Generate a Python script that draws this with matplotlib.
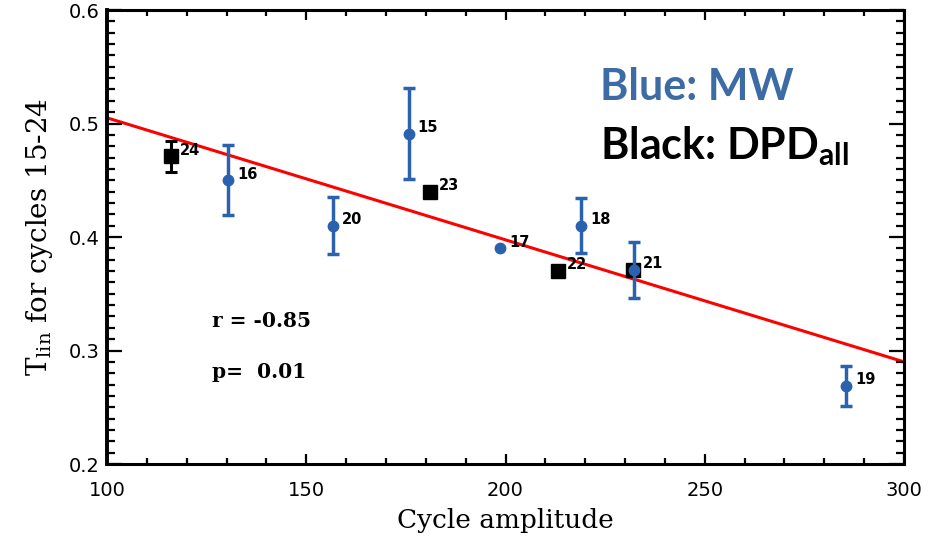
import matplotlib
matplotlib.use("Agg")
import matplotlib.pyplot as plt
import numpy as np

# MW sunspot-based T_lin values with uncertainties
mw_cycle = [15, 16, 17, 18, 19, 20, 21]
mw_amp = [175.7, 130.4, 198.7, 219.0, 285.4, 156.6, 232.2]
mw_tlin = [0.491, 0.450, 0.390, 0.410, 0.269, 0.410, 0.371]
mw_err = [0.040, 0.031, 0.0, 0.024, 0.0175, 0.025, 0.025]

# DPD (all) values
dpd_cycle = [21, 22, 23, 24]
dpd_amp = [232.0, 213.1, 181.0, 116.0]
dpd_tlin = [0.371, 0.370, 0.440, 0.471]
dpd_err = [0.0, 0.0, 0.0, 0.014]

# Linear regression line
fit_amp = [100, 300]
fit_tlin = [0.505, 0.290]
r_value = -0.85
p_value = 0.01

BLUE = "#2b62b0"
LEGEND_BLUE = "#3d6ba5"

plt.rcParams["mathtext.fontset"] = "dejavuserif"

fig = plt.figure(figsize=(9.38, 5.42), dpi=100)
ax = fig.add_axes([0.1141, 0.1439, 0.9638 - 0.1141, 0.9815 - 0.1439])

ax.plot(fit_amp, fit_tlin, color="red", lw=2.2, zorder=1, solid_capstyle="butt")

# DPD squares
dpd_amp_a = np.array(dpd_amp)
dpd_tlin_a = np.array(dpd_tlin)
dpd_err_a = np.array(dpd_err)
m = dpd_err_a > 0
ax.errorbar(dpd_amp_a[m], dpd_tlin_a[m], yerr=dpd_err_a[m], fmt="none",
            ecolor="black", elinewidth=2.2, capsize=4, capthick=2.2, zorder=2)
ax.plot(dpd_amp, dpd_tlin, ls="none", marker="s", ms=10, color="black", zorder=3)

# MW dots
mw_amp_a = np.array(mw_amp)
mw_tlin_a = np.array(mw_tlin)
mw_err_a = np.array(mw_err)
m = mw_err_a > 0
ax.errorbar(mw_amp_a[m], mw_tlin_a[m], yerr=mw_err_a[m], fmt="none",
            ecolor=BLUE, elinewidth=2.5, capsize=4, capthick=2.5, zorder=4)
ax.plot(mw_amp, mw_tlin, ls="none", marker="o", ms=7.5, color=BLUE, zorder=5)

# Cycle number labels (cycle 21 is labelled once)
labels = list(zip(mw_cycle, mw_amp, mw_tlin)) + list(zip(dpd_cycle, dpd_amp, dpd_tlin))[1:]
for c, x, y in labels:
    ax.annotate(str(c), (x, y), xytext=(6.5, 4.5), textcoords="offset points",
                ha="left", va="center", fontsize=10.5, fontweight="bold",
                family="DejaVu Sans", zorder=6)

ax.set_xlim(100, 300)
ax.set_ylim(0.2, 0.6)
ax.set_xticks([100, 150, 200, 250, 300])
ax.set_xticks(np.arange(100, 301, 10), minor=True)
ax.set_yticks([0.2, 0.3, 0.4, 0.5, 0.6])
ax.set_yticks(np.arange(0.2, 0.6001, 0.01), minor=True)
ax.set_xticklabels(["100", "150", "200", "250", "300"])
ax.set_yticklabels(["0.2", "0.3", "0.4", "0.5", "0.6"])

for s in ax.spines.values():
    s.set_linewidth(2.2)
ax.spines["left"].set_linewidth(2.8)

ax.tick_params(axis="both", which="both", direction="in", top=True, right=True,
               width=1.6, labelsize=14)
ax.tick_params(axis="x", which="major", length=7, pad=12)
ax.tick_params(axis="x", which="minor", length=4)
ax.tick_params(axis="y", which="major", length=11, pad=5)
ax.tick_params(axis="y", which="minor", length=5.5)

ax.set_xlabel("Cycle amplitude", family="DejaVu Serif", fontsize=19, labelpad=6)
ax.set_ylabel(r"T$_{\mathregular{lin}}$ for cycles 15-24", family="DejaVu Serif",
              fontsize=20, labelpad=10)

ax.text(0.132, 0.302, f"r = {r_value:.2f}", transform=ax.transAxes,
        family="DejaVu Serif", fontweight="bold", fontsize=14.5, ha="left", va="baseline")
ax.text(0.132, 0.19, f"p=  {p_value:.2f}", transform=ax.transAxes,
        family="DejaVu Serif", fontweight="bold", fontsize=14.5, ha="left", va="baseline")

ax.text(0.619, 0.802, "Blue: MW", transform=ax.transAxes, color=LEGEND_BLUE,
        family="Lato", fontweight="bold", fontsize=31, ha="left", va="baseline")
ax.text(0.619, 0.67, r"Black: DPD$_{\mathregular{all}}$", transform=ax.transAxes,
        color="black", family="Lato", fontweight="bold", fontsize=31,
        ha="left", va="baseline")

fig.savefig("out.png", dpi=100)
